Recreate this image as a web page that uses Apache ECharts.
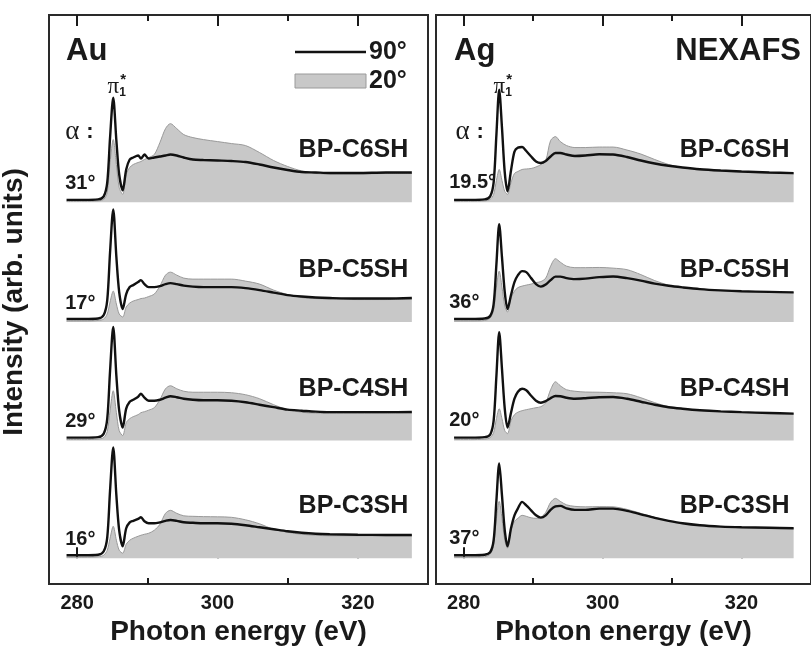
<!DOCTYPE html>
<html><head><meta charset="utf-8">
<script src="https://cdn.jsdelivr.net/npm/echarts@6/dist/echarts.min.js"></script>
<style>html,body{margin:0;padding:0;background:#fff}#c{width:811px;height:651px}</style>
</head><body><div id="c"></div>
<script>
// ---------- data (photon energy in eV, intensity in arb. units) ----------
const energyAu = [278.5,281,283,283.8,284.3,284.7,285.15,285.6,286.0,286.5,287.0,287.5,288.0,288.7,289.1,289.6,290.2,291.0,291.8,292.6,293.3,294.2,295.2,296.5,298,300,302,304,306,308,310,312,314,316,320,324,327.7];
const energyAg = [278.6,281,283,283.8,284.3,284.7,285.1,285.5,285.9,286.3,286.8,287.3,287.8,288.4,289.0,289.7,290.4,291.1,291.8,292.5,293.2,293.9,294.8,296,297.5,299.5,301.5,303.5,305.5,307.5,309.5,311.5,314,317,320,324,327.5];

const samples = ['BP-C6SH','BP-C5SH','BP-C4SH','BP-C3SH'];
const offsets = [357, 237, 118, 0];           // vertical offsets of the stacked spectra
const anglesAu = ['31°','17°','29°','16°'];
const anglesAg = ['19.5°','36°','20°','37°'];
const xMajorTicks = [280, 300, 320];
const xMinorTicks = [290, 310];

// Au, 90° (black line) and 20° (grey area)
const au90_C6 = [2.5,2.5,3,6,20,65,105,62,28,12,33,43,45,47,44,48,44,45,46,47,48,47,45,43,42.5,42,41.5,40.5,38,35,32.5,30.5,30,29.5,29.5,30,30];
const au20_C6 = [1,1,1.5,3,10,40,63,38,15,8,28,35,38,40,41,43,45,48,60,74,79,74,68,65,63,61,59,57,50,42,36,31.5,29,28.5,28.5,29,29];
const au90_C5 = [3,3,3.5,7,22,70,113,65,30,13,28,35,37,40,42,38,35,35,36,38,39,38,36.5,35.5,35,35,35,34,32,29.5,27,25.5,24.5,24,23.5,23.5,24];
const au20_C5 = [1,1,1.5,3,8,20,31,18,8,5,15,19,21,22.5,23.5,24,25.5,28,36,47,50,47,44,43,43,43,43,41,38,32,27.5,24.5,23.5,23,22.5,22.5,23];
const au90_C4 = [3,3,3.5,7,22,70,114,65,30,13,32,39,41,44,47,43,40,40,41,43,44.5,43.5,42,41,40.5,40.5,40,38.5,36,33.5,31,30,29,28.5,28.5,28.5,28.7];
const au20_C4 = [1,1,1.5,3,9,30,50,28,10,5,18,22,24,26,28,29,30.5,33,41,52,55,52,49.5,48.5,48.5,48.5,48,46,42,36,31,28.5,27.5,27.5,27.5,27.5,28];
const au90_C3 = [3,3,3.5,7,21,68,111,63,28,12,30,36,37.5,39.5,41,37,35,35,36,37.5,38.3,37.5,36,35.5,35,35,34.5,33,31,29,27,25.5,24.5,24,23.5,23.3,23.3];
const au20_C3 = [1,1,1.5,3,8,20,32,18,8,5,14,18,20,22,23,24,25,28,34,45,48,45,42.5,42,41.7,41.5,41,38.5,34.5,29,26,24,23,22.5,22.5,22.5,22.5];

// Ag, 90° and 20°
const ag90_C6 = [2.5,2.5,3,6,20,68,113,75,30,11,32,51,55,55.5,51.5,46,41,39.5,41.5,46,49.5,49.5,48,46.5,47,48.3,48,45.5,42,39,36.7,35,33.3,32,31,30,29.3];
const ag20_C6 = [1,1,1.5,3,8,22,33,22,11,8,20,29,31,33,33.5,34,35.5,38,42,62,66,61,57,55,55,55.5,55.5,52.5,48.5,43,38,35,32.5,31.3,30.3,29.3,28.7];
const ag90_C5 = [3,3,3.5,6,18,58,98,65,30,13,27,40,47,51,50,44,38,35.5,37.5,42,45.5,45.5,44,43,43.5,45,45.7,44,41.5,38.5,36.3,34.7,33,31.7,30.8,30.2,29.7];
const ag20_C5 = [1,1,1.5,4,12,35,51,35,16,10,24,31,34.5,36,37,38,39.5,40.5,44,56,63.5,60,56,54.5,54.5,54.7,54,52.5,47.5,41.5,37,34.5,33,31.5,30.5,30,29.5];
const ag90_C4 = [3,3,3.5,6,20,65,108.7,72,32,13,28,42,49,52,50.5,45,40,38,39.5,42.5,44.7,44.5,43,42,42.5,43.5,43.7,42,39,36,33.5,32,30.5,29.3,28.5,27.7,27];
const ag20_C4 = [1,1,1.5,3,8,22,32,22,10,7,20,26,28.5,30,31,32,33,34,38,51,59,55,51,49.5,48.7,48.5,48,47,43,38,34,32,30.3,29,28.2,27.5,26.8];
const ag90_C3 = [3,3,3.5,6,18,58,95,63,28,12,30,43,50,56.5,53,48,43,40.7,43,48.5,52,52.5,50,48.5,48.5,49.7,49.7,47.5,44,40.5,37.5,35,33,31.7,31,30.5,30];
const ag20_C3 = [1,1,1.5,4,14,40,57,40,18,10,28,37,40,43,42,40.5,40,41,46,56,60,57,53.5,52,51.5,51.7,51.5,49,45,41,37.5,35,33,31.7,30.7,30.3,29.8];

const au90 = [au90_C6, au90_C5, au90_C4, au90_C3];
const au20 = [au20_C6, au20_C5, au20_C4, au20_C3];
const ag90 = [ag90_C6, ag90_C5, ag90_C4, ag90_C3];
const ag20 = [ag20_C6, ag20_C5, ag20_C4, ag20_C3];

// ---------- chart ----------
const FONT = '"Liberation Sans", Arial, Helvetica, sans-serif';
const SERIF = '"Liberation Serif", "DejaVu Serif", serif';
const INK = '#1a1a1a';
const GREY = '#c8c8c8';
const chart = echarts.init(document.getElementById('c'), null, {renderer: 'canvas'});

const grids = [
  {left: 49, top: 15, width: 379, height: 571},
  {left: 436, top: 15, width: 381, height: 571}
];

function xAxes(gi) {
  const base = {gridIndex: gi, type: 'value', min: 276, max: 330, splitLine: {show: false},
    axisLine: {show: false}};
  const tickStyle = {color: INK, width: 2};
  return [
    Object.assign({}, base, {position: 'bottom',
      axisTick: {show: true, inside: true, length: 11, customValues: xMajorTicks, lineStyle: tickStyle},
      axisLabel: {show: true, customValues: xMajorTicks, fontSize: 20, fontWeight: 'bold', fontFamily: FONT, color: INK, margin: 9},
      name: 'Photon energy (eV)', nameLocation: 'middle', nameGap: 33,
      nameTextStyle: {fontSize: 28, fontWeight: 'bold', fontFamily: FONT, color: INK}}),
    Object.assign({}, base, {position: 'bottom',
      axisTick: {show: true, inside: true, length: 6, customValues: xMinorTicks, lineStyle: tickStyle},
      axisLabel: {show: false}}),
    Object.assign({}, base, {position: 'top',
      axisTick: {show: true, inside: true, length: 11, customValues: xMajorTicks, lineStyle: tickStyle},
      axisLabel: {show: false}}),
    Object.assign({}, base, {position: 'top',
      axisTick: {show: true, inside: true, length: 6, customValues: xMinorTicks, lineStyle: tickStyle},
      axisLabel: {show: false}})
  ];
}

function pairs(E, vals, off) { return E.map((e, i) => [e, vals[i] + off]); }

const series = [];
[[energyAu, au20, au90], [energyAg, ag20, ag90]].forEach((set, gi) => {
  const E = set[0];
  for (let i = 0; i < 4; i++) {
    series.push({
      type: 'line', xAxisIndex: gi * 4, yAxisIndex: gi, z: 1,
      data: pairs(E, set[1][i], offsets[i]), showSymbol: false, symbol: 'none',
      smooth: 0.3, silent: true,
      lineStyle: {color: '#9a9a9a', width: 1},
      areaStyle: {color: GREY, opacity: 1, origin: offsets[i]}
    });
  }
  for (let i = 0; i < 4; i++) {
    series.push({
      type: 'line', xAxisIndex: gi * 4, yAxisIndex: gi, z: 3,
      data: pairs(E, set[2][i], offsets[i]), showSymbol: false, symbol: 'none',
      smooth: 0.3, silent: true,
      lineStyle: {color: '#111', width: 2.4}
    });
  }
});

chart.setOption({
  animation: false,
  backgroundColor: '#fff',
  grid: grids.map(g => Object.assign({show: true, borderColor: '#2a2a2a', borderWidth: 2, backgroundColor: 'transparent'}, g)),
  xAxis: xAxes(0).concat(xAxes(1)),
  yAxis: [0, 1].map(gi => ({gridIndex: gi, type: 'value', min: -26, max: 545, show: false})),
  series: series
});

// ---------- annotations ----------
function px(gi, x, y) { return chart.convertToPixel({xAxisIndex: gi * 4, yAxisIndex: gi}, [x, y]); }
function txt(x, y, text, size, opts) {
  return Object.assign({type: 'text', x: x, y: y, z: 10, silent: true,
    style: Object.assign({text: text, fontSize: size, fontWeight: 'bold', fontFamily: FONT, fill: INK,
      align: 'left', verticalAlign: 'middle'}, (opts || {}))});
}
const g = [];
for (let i = 0; i < 4; i++) {
  let p = px(0, 327.2, offsets[i] + 52);
  g.push(txt(p[0], p[1], samples[i], 25, {align: 'right'}));
  p = px(1, 326.9, offsets[i] + 52);
  g.push(txt(p[0], p[1], samples[i], 25, {align: 'right'}));
  p = px(0, 278.3, offsets[i] + 19);
  g.push(txt(p[0], p[1], anglesAu[i], 20));
  p = px(1, 277.9, offsets[i] + 20);
  g.push(txt(p[0], p[1], anglesAg[i], 20));
}
// alpha labels and pi* labels (first row)
[[0, 278.3, 285.15], [1, 278.8, 285.1]].forEach(([gi, xa, xp]) => {
  let p = px(gi, xa, offsets[0] + 71);
  g.push(txt(p[0], p[1], 'α', 27, {fontFamily: SERIF, fontWeight: 'normal'}));
  g.push(txt(p[0] + 21, p[1], ':', 22));
  p = px(gi, xp, offsets[0] + 116);
  g.push(txt(p[0], p[1], 'π', 23, {fontFamily: SERIF, fontWeight: 'normal', align: 'center'}));
  g.push(txt(p[0] + 6, p[1] + 6, '1', 12));
  g.push(txt(p[0] + 7, p[1] - 7, '*', 15));
});
// panel titles
g.push(txt(66, 51, 'Au', 31));
g.push(txt(454, 51, 'Ag', 31));
g.push(txt(801, 51, 'NEXAFS', 31, {align: 'right'}));
// legend
g.push({type: 'line', z: 10, silent: true, shape: {x1: 295, y1: 52, x2: 366, y2: 52}, style: {stroke: '#111', lineWidth: 2.4}});
g.push(txt(369, 52, '90°', 25));
g.push({type: 'rect', z: 10, silent: true, shape: {x: 295, y: 74, width: 71, height: 14}, style: {fill: GREY, stroke: '#9a9a9a', lineWidth: 1}});
g.push(txt(369, 81, '20°', 25));
// y-axis title
g.push(Object.assign(txt(14, 302, 'Intensity (arb. units)', 28, {align: 'center'}), {rotation: Math.PI / 2}));

chart.setOption({graphic: {elements: g}});
</script>
</body></html>
